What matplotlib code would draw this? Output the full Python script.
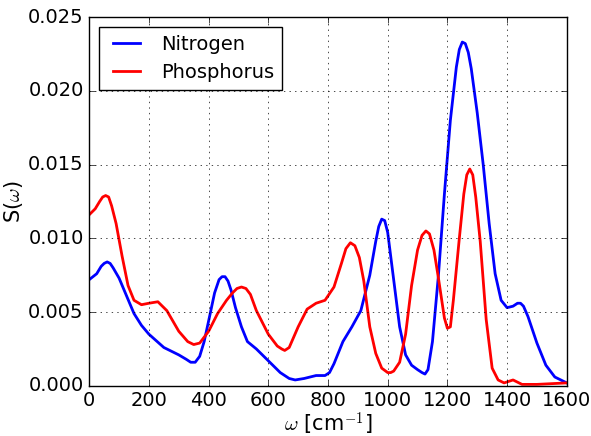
import numpy as np
import matplotlib
matplotlib.use("Agg")
import matplotlib.pyplot as plt

# --- data ---
n_omega = [0, 25, 40, 50, 60, 70, 80, 100, 125, 150, 175, 200, 250, 300, 325, 340, 355,
           370, 385, 400, 420, 435, 445, 455, 465, 475, 490, 510, 530, 560, 600, 640,
           670, 690, 720, 760, 790, 805, 820, 850, 880, 910, 940, 960, 970, 980, 990,
           1000, 1020, 1040, 1060, 1080, 1100, 1115, 1125, 1135, 1150, 1170, 1190,
           1210, 1230, 1240, 1250, 1260, 1270, 1280, 1300, 1320, 1340, 1360, 1380,
           1400, 1420, 1435, 1445, 1455, 1470, 1500, 1530, 1560, 1600]
nitrogen = [0.0072, 0.0076, 0.0081, 0.0083, 0.0084, 0.0083, 0.0080, 0.0073, 0.0061,
            0.0049, 0.0041, 0.0035, 0.0026, 0.0021, 0.0018, 0.0016, 0.0016, 0.0020,
            0.0030, 0.0044, 0.0063, 0.0072, 0.0074, 0.0074, 0.0071, 0.0065, 0.0053,
            0.0040, 0.0030, 0.0025, 0.0017, 0.0009, 0.0005, 0.0004, 0.0005, 0.0007,
            0.0007, 0.0009, 0.0015, 0.0030, 0.0040, 0.0051, 0.0075, 0.0098, 0.0108,
            0.0113, 0.0112, 0.0104, 0.0072, 0.0040, 0.0021, 0.0014, 0.0011, 0.0009,
            0.0008, 0.0011, 0.0030, 0.0075, 0.0130, 0.0180, 0.0216, 0.0228, 0.0233,
            0.0232, 0.0226, 0.0215, 0.0185, 0.0150, 0.0110, 0.0076, 0.0058, 0.0053,
            0.0054, 0.0056, 0.0056, 0.0054, 0.0047, 0.0029, 0.0014, 0.0006, 0.0002]

p_omega = [0, 20, 35, 45, 55, 65, 75, 90, 110, 130, 150, 175, 200, 230, 260, 300, 330,
           350, 370, 400, 430, 460, 480, 495, 510, 525, 540, 560, 600, 630, 645, 655,
           670, 700, 730, 760, 790, 820, 845, 860, 875, 890, 905, 920, 940, 960, 980,
           1000, 1010, 1020, 1040, 1060, 1080, 1100, 1115, 1128, 1140, 1155, 1170,
           1190, 1200, 1210, 1220, 1240, 1255, 1265, 1275, 1285, 1295, 1310, 1330,
           1350, 1370, 1390, 1420, 1450, 1500, 1600]
phosphorus = [0.0116, 0.0120, 0.0125, 0.0128, 0.0129, 0.0128, 0.0122, 0.0110, 0.0088,
              0.0068, 0.0058, 0.0055, 0.0056, 0.0057, 0.0051, 0.0037, 0.0030, 0.0028,
              0.0029, 0.0037, 0.0049, 0.0058, 0.0063, 0.0066, 0.0067, 0.0066, 0.0062,
              0.0051, 0.0035, 0.0027, 0.0025, 0.0024, 0.0026, 0.0040, 0.0052, 0.0056,
              0.0058, 0.0067, 0.0083, 0.0093, 0.0097, 0.0095, 0.0087, 0.0071, 0.0040,
              0.0022, 0.0012, 0.0009, 0.0009, 0.0010, 0.0016, 0.0035, 0.0068, 0.0092,
              0.0102, 0.0105, 0.0103, 0.0092, 0.0073, 0.0046, 0.0039, 0.0040, 0.0058,
              0.0100, 0.0130, 0.0143, 0.0147, 0.0143, 0.0128, 0.0098, 0.0045, 0.0012,
              0.0004, 0.0002, 0.0004, 0.0001, 0.0001, 0.0002]

plt.style.use('classic')
plt.rcParams['font.size'] = 14

fig = plt.figure(figsize=(5.91, 4.36), dpi=100, facecolor='white')
ax = fig.add_axes([0.151, 0.115, 0.808, 0.846])

ax.plot(n_omega, nitrogen, color='b', lw=2, label='Nitrogen')
ax.plot(p_omega, phosphorus, color='r', lw=2, label='Phosphorus')

ax.set_xlim(0, 1600)
ax.set_ylim(0, 0.025)
ax.set_xticks(np.arange(0, 1601, 200))
ax.set_yticks(np.arange(0, 0.0251, 0.005))
ax.yaxis.set_major_formatter(matplotlib.ticker.FormatStrFormatter('%.3f'))
ax.tick_params(labelsize=14)
ax.grid(True)

ax.set_xlabel(r'$\omega$ [cm$^{-1}$]', fontsize=15, labelpad=0)
ax.set_ylabel(r'S($\omega$)', fontsize=15, labelpad=2)
ax.legend(loc='upper left', fontsize=14)

fig.savefig('out.png', dpi=100, facecolor='white')
